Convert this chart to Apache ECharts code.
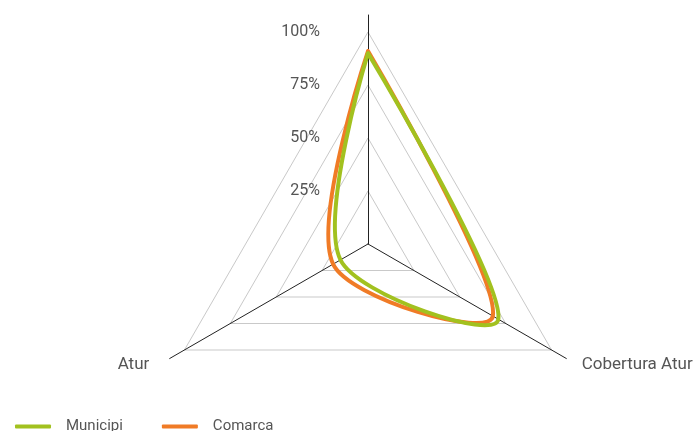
<!DOCTYPE html>
<html>
<head>
<meta charset="utf-8">
<script src="https://cdn.jsdelivr.net/npm/echarts@6/dist/echarts.min.js"></script>
<style>
  html, body { margin: 0; padding: 0; background: #fff; }
  #chart { width: 699px; height: 431px; }
</style>
</head>
<body>
<div id="chart"></div>
<script>
// Radar axes (the top axis carries no caption)
const indicatorNames = ['', 'Atur', 'Cobertura Atur'];
const axisMax = 100;
const tickLabels = ['', '25%', '50%', '75%', '100%'];

// Series values, in percent, one per indicator
const municipi = [90, 15, 71];
const comarca = [91, 19, 68];

const seriesNames = ['Municipi', 'Comarca'];
const seriesColors = { Municipi: '#a2c11f', Comarca: '#f07b26' };

const FONT = 'Roboto, "DejaVu Sans", sans-serif';
const CENTER = ['368', '244'];
const RADIUS = 212;
const SMOOTH = 0.3;

// each indicator sits at an equal share of the full turn;
// the outline returns to the first indicator to close the loop
const angleOf = (i) => (360 / indicatorNames.length) * i;
const toLoop = (vals) => vals.concat([vals[0]]).map((v, i) => [v, angleOf(i)]);

// one smooth stroke through all points of the series, drawn once
function outlineRenderer(color) {
  return function (params, api) {
    if (params.dataIndex !== 0) return null;
    const pts = [];
    for (let i = 0; i <= indicatorNames.length; i++) {
      pts.push(api.coord([api.value(0, i), api.value(1, i)]));
    }
    return {
      type: 'polyline',
      shape: { points: pts, smooth: SMOOTH },
      style: { fill: null, stroke: color, lineWidth: 4, lineCap: 'round', lineJoin: 'round' },
      silent: true
    };
  };
}

// caption padding nudges, keyed by rich style
const nameRich = {
  left: { padding: [0, 10, 0, 0] },
  right: { padding: [0, 0, 0, 5] },
  plain: {}
};
const nameStyleKey = { 'Atur': 'left', 'Cobertura Atur': 'right' };

const chart = echarts.init(document.getElementById('chart'));

chart.setOption({
  animation: false,
  backgroundColor: '#ffffff',
  legend: {
    data: seriesNames,
    left: 10,
    top: 414,
    icon: 'roundRect',
    itemWidth: 36,
    itemHeight: 4,
    itemGap: 39,
    textStyle: { color: '#555', fontSize: 15, fontFamily: FONT, padding: [0, 0, 0, 10] }
  },
  polar: { center: CENTER, radius: RADIUS },
  angleAxis: {
    type: 'value', min: 0, max: 360, startAngle: 90, clockwise: false,
    show: false
  },
  radiusAxis: { type: 'value', min: 0, max: axisMax, show: false },
  radar: [
    {
      // grid rings and tick labels
      center: CENTER,
      radius: RADIUS,
      startAngle: 90,
      splitNumber: 4,
      shape: 'polygon',
      indicator: indicatorNames.map((n, i) => ({
        name: '',
        min: 0,
        max: axisMax,
        axisLabel: i === 0 ? {
          show: true,
          color: '#555',
          fontSize: 16,
          fontFamily: FONT,
          margin: 48,
          formatter: (v) => tickLabels[Math.round(v / (axisMax / 4))] || ''
        } : { show: false }
      })),
      axisName: { show: false },
      axisLine: { show: false },
      axisTick: { show: false },
      splitArea: { show: false },
      splitLine: { lineStyle: { color: '#c9c9c9', width: 1 } }
    },
    {
      // axis spokes and captions
      center: CENTER,
      radius: 229,
      startAngle: 90,
      shape: 'polygon',
      indicator: indicatorNames.map((n) => ({ name: n, min: 0, max: axisMax })),
      axisName: {
        color: '#555', fontSize: 17, fontFamily: FONT,
        formatter: (name) => name ? '{' + (nameStyleKey[name] || 'plain') + '|' + name + '}' : '',
        rich: Object.fromEntries(Object.entries(nameRich).map(([k, v]) =>
          [k, Object.assign({ color: '#555', fontSize: 17, fontFamily: FONT }, v)]))
      },
      nameGap: 12,
      axisLine: { show: true, lineStyle: { color: '#222', width: 1 } },
      axisTick: { show: false },
      axisLabel: { show: false },
      splitLine: { show: false },
      splitArea: { show: false }
    }
  ],
  series: [
    {
      name: 'Comarca',
      type: 'custom',
      coordinateSystem: 'polar',
      z: 2,
      itemStyle: { color: seriesColors.Comarca },
      renderItem: outlineRenderer(seriesColors.Comarca),
      data: toLoop(comarca)
    },
    {
      name: 'Municipi',
      type: 'custom',
      coordinateSystem: 'polar',
      z: 3,
      itemStyle: { color: seriesColors.Municipi },
      renderItem: outlineRenderer(seriesColors.Municipi),
      data: toLoop(municipi)
    }
  ]
});
</script>
</body>
</html>
